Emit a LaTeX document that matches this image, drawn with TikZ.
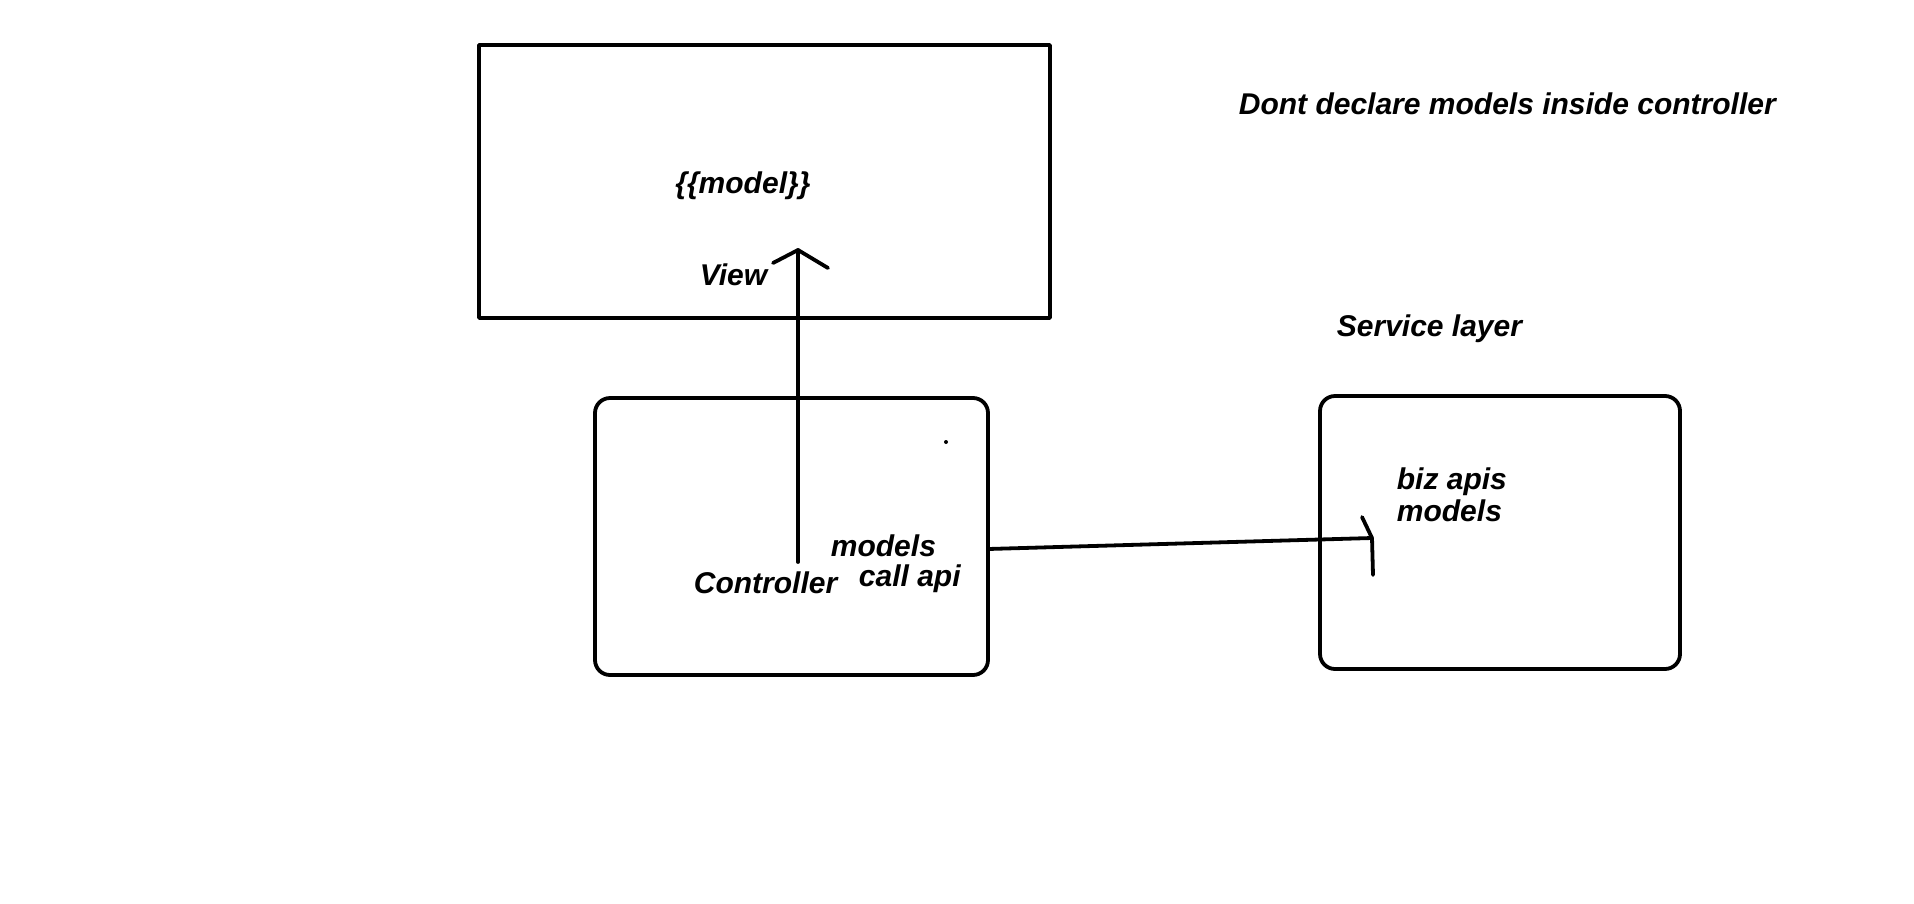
\documentclass[tikz,border=0pt]{standalone}
\usepackage{fontspec}
\setmainfont{Liberation Sans}
\usetikzlibrary{positioning}

\begin{document}
\begin{tikzpicture}[x=1pt,y=-1pt,
					line width=3.8pt,
					line cap=round,
					line join=round,
					box node/.style={rectangle,draw,inner sep=0pt},
					round node/.style={box node,rounded corners=15pt},
					lbl/.style={font=\fontsize{30}{34}\selectfont\bfseries\itshape,
								inner sep=0pt,anchor=base west}]

  \useasboundingbox (0,0) rectangle (1914,903);

  % boxes
  \node[box node,minimum width=571pt,minimum height=273pt] (view) at (764.5,181.5) {};
  \node[round node,minimum width=393pt,minimum height=277pt] (ctrl) at (791.5,536.5) {};
  \node[round node,minimum width=360pt,minimum height=273pt] (svc) at (1500,532.5) {};

  % texts
  \node[lbl] (model) at (673.5,193) {\{\{model\}\}};
  \node[lbl] (viewlbl) at (698,285) {View};
  \node[lbl] (ctrllbl) at (692,593) {Controller};
  \node[lbl] (ctrlmodels) at (829,556) {models};
  \node[lbl] (callapi) at (857,586) {call api};
  \node[lbl] (svclbl) at (1335,336.5) {Service layer};
  \node[lbl] (bizapis) at (1395,489) {biz apis};
  \node[lbl] (svcmodels) at (1395,521) {models};
  \node[lbl] (note) at (1237,114) {Dont declare models inside controller};
  \node[circle,fill,inner sep=0pt,minimum size=4pt] (dot) at (946,442) {};

  % connectors
  \coordinate (vstart) at (798,562);
  \coordinate (vtip) at (798,250);
  \coordinate (hstart) at (988,549);
  \coordinate (htip) at (1372,538);

  \draw (vstart) -- (vtip);
  \draw (vtip) -- ++(-25,13) (vtip) -- ++(30,18);
  \draw (hstart) -- (htip);
  \draw (htip) -- ++(-10,-21) (htip) -- ++(1,37);
\end{tikzpicture}
\end{document}
